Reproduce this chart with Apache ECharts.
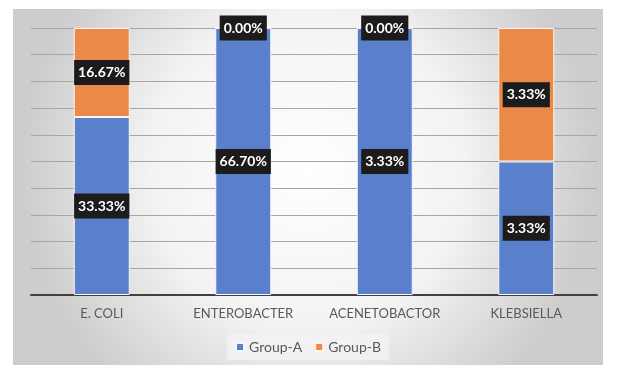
<!DOCTYPE html>
<html>
<head>
<meta charset="utf-8">
<script src="https://cdn.jsdelivr.net/npm/echarts@6/dist/echarts.min.js"></script>
<style>
  html, body { margin: 0; padding: 0; background: #fff; }
  #chart { position: absolute; left: 13px; top: 9px; width: 590px; height: 356px; }
</style>
</head>
<body>
<div id="chart"></div>
<script>
// raw values as labelled on the chart (100% stacked)
var categories = ['E. COLI', 'ENTEROBACTER', 'ACENETOBACTOR', 'KLEBSIELLA'];
var groupA = [33.33, 66.70, 3.33, 3.33];
var groupB = [16.67, 0.00, 0.00, 3.33];

// share of each stack, for the 100% layout
function share(v, i) {
    var total = groupA[i] + groupB[i];
    return total ? v / total * 100 : 0;
}
var shareA = groupA.map(share);
var shareB = groupB.map(share);

var chart = echarts.init(document.getElementById('chart'));

var labelStyle = {
    show: true,
    position: 'inside',
    color: '#ffffff',
    fontFamily: 'Lato',
    fontWeight: 'bold',
    fontSize: 14,
    backgroundColor: '#1c1c1c',
    padding: [6, 4, 5, 4]
};

var option = {
    backgroundColor: new echarts.graphic.RadialGradient(0.5, 0.45, 0.8, [
        { offset: 0, color: '#ffffff' },
        { offset: 0.55, color: '#f3f3f3' },
        { offset: 1, color: '#cdcdcd' }
    ]),
    textStyle: { fontFamily: 'Lato' },
    grid: { left: 18, right: 6, top: 19, bottom: 70 },
    legend: {
        bottom: 5,
        left: 'center',
        data: ['Group-A', 'Group-B'],
        icon: 'rect',
        itemWidth: 8,
        itemHeight: 8,
        itemGap: 12,
        padding: [6, 8],
        backgroundColor: 'rgba(242,242,242,0.85)',
        textStyle: { color: '#595959', fontSize: 14, fontFamily: 'Lato' }
    },
    xAxis: {
        type: 'category',
        data: categories,
        axisTick: { show: false },
        axisLine: { lineStyle: { color: '#404040', width: 2 } },
        axisLabel: { color: '#595959', fontSize: 13, margin: 12, interval: 0, fontFamily: 'Lato' }
    },
    yAxis: {
        type: 'value',
        min: 0,
        max: 100,
        interval: 10,
        axisLabel: { show: false },
        axisLine: { show: false },
        axisTick: { show: false },
        splitLine: { lineStyle: { color: '#a6a6a6', width: 1 } }
    },
    series: [
        {
            name: 'Group-A',
            type: 'bar',
            stack: 'total',
            barWidth: 56,
            data: shareA,
            itemStyle: { color: '#5b80cb', borderColor: '#f4f7ff', borderWidth: 1 },
            label: Object.assign({}, labelStyle, {
                formatter: function (p) { return groupA[p.dataIndex].toFixed(2) + '%'; }
            })
        },
        {
            name: 'Group-B',
            type: 'bar',
            stack: 'total',
            barWidth: 56,
            data: shareB,
            itemStyle: { color: '#eb8a48', borderColor: '#fff4ec', borderWidth: 1 },
            label: Object.assign({}, labelStyle, {
                formatter: function (p) { return groupB[p.dataIndex].toFixed(2) + '%'; }
            })
        }
    ]
};

chart.setOption(option);
</script>
</body>
</html>
